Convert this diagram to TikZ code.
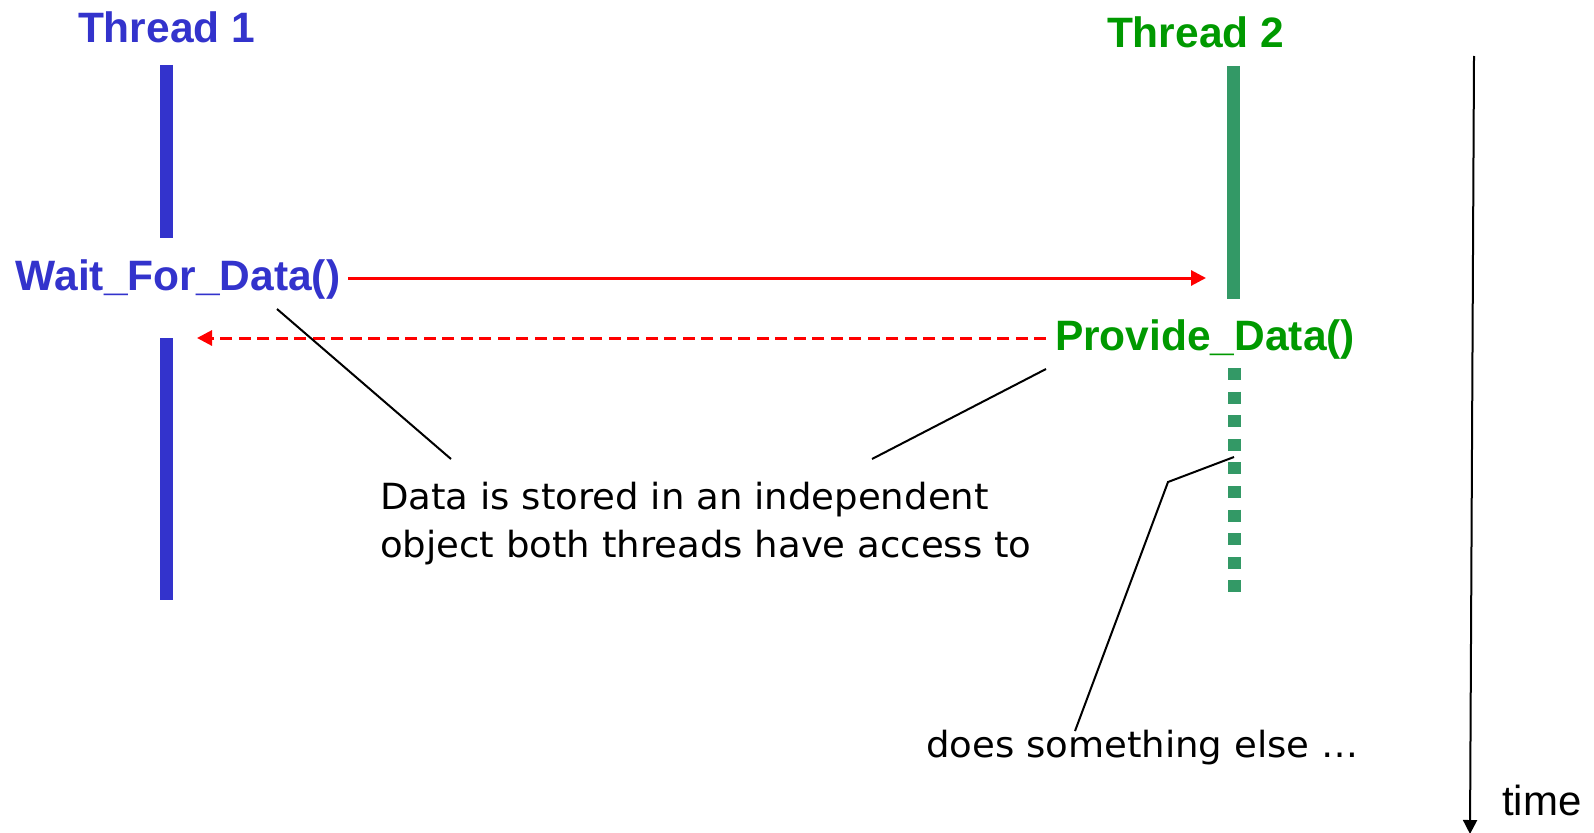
\documentclass[tikz,border=0pt]{standalone}
\usepackage{fontspec}
\setmainfont{Liberation Sans}
\newfontfamily\notefont{DejaVu Sans}[FakeStretch=1.03]
\usetikzlibrary{arrows.meta}

\definecolor{threadblue}{RGB}{51,51,204}
\definecolor{threadgreen}{RGB}{0,153,0}
\definecolor{lifegreen}{RGB}{51,153,102}
\definecolor{msgred}{RGB}{255,0,0}

\begin{document}
\begin{tikzpicture}[x=1pt,y=-1pt,
  txt/.style={inner sep=0pt, outer sep=0pt, anchor=base west},
  threadname/.style={txt, font=\fontsize{42.5}{50}\selectfont\bfseries},
  note/.style={txt, font=\notefont\fontsize{36}{48}\selectfont},
  timelabel/.style={txt, font=\fontsize{42}{50}\selectfont},
  lifeline/.style={line width=13pt, line cap=butt},
  idleline/.style={lifeline, color=lifegreen, dash pattern=on 12pt off 11.6pt},
  call/.style={msgred, line width=3pt, -{Triangle[length=15pt,width=15pt]}},
  reply/.style={call, dash pattern=on 12pt off 6.5pt},
  leader/.style={black, line width=2pt},
  timeaxis/.style={black, line width=2pt, -{Triangle[length=14pt,width=14pt]}}
]
\useasboundingbox (0,0) rectangle (1594,832);

% thread headers and function names
\node[threadname, text=threadblue]  (t1name) at (78,43)   {Thread 1};
\node[threadname, text=threadgreen] (t2name) at (1107,48) {Thread 2};
\node[threadname, text=threadblue]  (wait)   at (16,290)  {Wait\_For\_Data()};
\node[threadname, text=threadgreen] (prov)   at (1055,350) {Provide\_Data()};

% explanatory notes
\node[note] (store) at (380,509)
  {\vtop{\hbox{Data is stored in an independent}\hbox{object both threads have access to}}};
\node[note] (other) at (926,757) {does something else \ldots};
\node[timelabel] (time) at (1502,815) {time};

% lifelines of both threads
\coordinate (t1a) at (166.5,65);
\coordinate (t1b) at (166.5,238);
\coordinate (t1c) at (166.5,338);
\coordinate (t1d) at (166.5,600);
\coordinate (t2a) at (1233.5,66);
\coordinate (t2b) at (1233.5,299);
\coordinate (t2c) at (1234,368);
\coordinate (t2d) at (1234,592);
\draw[lifeline, threadblue] (t1a) -- (t1b);
\draw[lifeline, threadblue] (t1c) -- (t1d);
\draw[lifeline, lifegreen]  (t2a) -- (t2b);
\draw[idleline] (t2c) -- (t2d);

% messages between the threads
\coordinate (callStart) at (348,278);
\coordinate (callEnd)   at (1206,278);
\coordinate (replyStart) at (1046,338);
\coordinate (replyEnd)   at (197,338);
\draw[call]  (callStart) -- (callEnd);
\draw[reply] (replyStart) -- (replyEnd);

% leader lines to the notes
\coordinate (waitLead)  at (277,309);
\coordinate (storeL)    at (451,459);
\coordinate (provLead)  at (1046,369);
\coordinate (storeR)    at (872,459);
\coordinate (idleLead)  at (1234,457);
\coordinate (idleBend)  at (1168,482);
\coordinate (otherTop)  at (1075,731);
\draw[leader] (waitLead) -- (storeL);
\draw[leader] (provLead) -- (storeR);
\draw[leader, line join=miter] (idleLead) -- (idleBend) -- (otherTop);

% time axis
\coordinate (timeTop) at (1474,56);
\coordinate (timeEnd) at (1470,834);
\draw[timeaxis] (timeTop) -- (timeEnd);
\end{tikzpicture}
\end{document}
